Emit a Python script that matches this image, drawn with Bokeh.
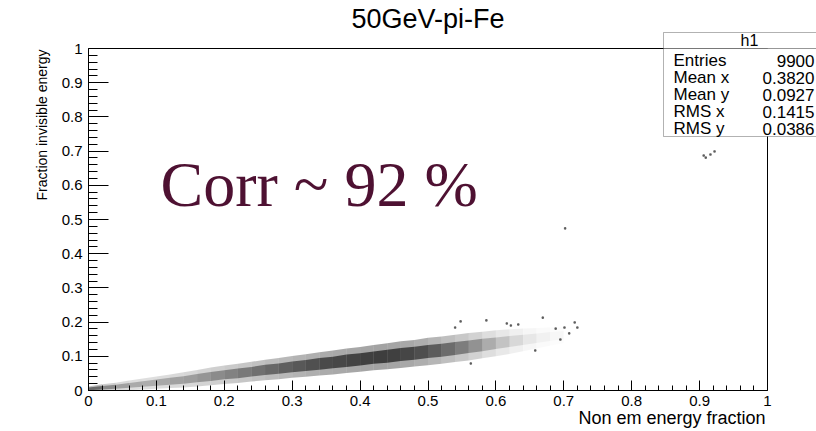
import math
from bokeh.plotting import figure
from bokeh.models import Label, BoxAnnotation, FixedTicker, ColumnDataSource, Title
from bokeh.embed import file_html
from bokeh.resources import INLINE

# ---------------- data ----------------
title_text = "50GeV-pi-Fe"
x_title = "Non em energy fraction"
y_title = "Fraction invisible energy"
corr_text = "Corr ~ 92 %"

x_lo, x_hi = 0, 1
y_lo, y_hi = 0, 1
major_ticks = [0, 0.1, 0.2, 0.3, 0.4, 0.5, 0.6, 0.7, 0.8, 0.9, 1]
major_labels = ["0", "0.1", "0.2", "0.3", "0.4", "0.5", "0.6", "0.7", "0.8", "0.9", "1"]
minor_ticks = [i / 50 for i in range(51)]

# 2D-density band of the scatter, per x column
col_x = [0.0, 0.02, 0.04, 0.06, 0.08, 0.10, 0.12, 0.14, 0.16, 0.18, 0.20, 0.22,
         0.24, 0.26, 0.28, 0.30, 0.32, 0.34, 0.36, 0.38, 0.40, 0.42, 0.44, 0.46,
         0.48, 0.50, 0.52, 0.54, 0.56, 0.58, 0.60, 0.62, 0.64, 0.66, 0.68, 0.70]
col_ycenter = [0.005, 0.008, 0.011, 0.015, 0.019, 0.023, 0.027, 0.031, 0.036, 0.041,
               0.046, 0.050, 0.055, 0.060, 0.064, 0.069, 0.073, 0.078, 0.082, 0.087,
               0.091, 0.096, 0.100, 0.105, 0.109, 0.114, 0.118, 0.123, 0.128, 0.133,
               0.138, 0.143, 0.148, 0.153, 0.158, 0.162]
col_core_half = [0.004, 0.005, 0.006, 0.007, 0.008, 0.009, 0.010, 0.011, 0.012, 0.013,
                 0.013, 0.014, 0.014, 0.015, 0.015, 0.016, 0.016, 0.017, 0.017, 0.018,
                 0.018, 0.018, 0.019, 0.019, 0.019, 0.019, 0.019, 0.019, 0.018, 0.018,
                 0.017, 0.016, 0.015, 0.014, 0.013, 0.012]
col_outer_half = [0.007, 0.010, 0.012, 0.014, 0.016, 0.018, 0.020, 0.022, 0.024, 0.026,
                  0.027, 0.028, 0.029, 0.030, 0.031, 0.032, 0.033, 0.034, 0.035, 0.036,
                  0.036, 0.037, 0.038, 0.039, 0.039, 0.040, 0.040, 0.040, 0.040, 0.039,
                  0.038, 0.036, 0.033, 0.030, 0.027, 0.024]
col_density = [0.8, 0.6, 0.45, 0.38, 0.35, 0.36, 0.4, 0.42, 0.45, 0.5, 0.55, 0.6,
               0.65, 0.7, 0.75, 0.8, 0.85, 0.9, 0.92, 0.95, 0.97, 1.0, 1.0, 0.97,
               0.92, 0.85, 0.75, 0.65, 0.55, 0.42, 0.3, 0.2, 0.12, 0.07, 0.04, 0.02]

# sparse single entries
sparse_x = [0.540, 0.548, 0.563, 0.586, 0.616, 0.622, 0.633, 0.658, 0.669, 0.688,
            0.695, 0.701, 0.708, 0.716, 0.720, 0.702, 0.909, 0.916, 0.922, 0.906]
sparse_y = [0.184, 0.202, 0.079, 0.205, 0.196, 0.190, 0.193, 0.117, 0.213, 0.181,
            0.149, 0.184, 0.167, 0.199, 0.184, 0.474, 0.681, 0.690, 0.699, 0.687]

stats_title = "h1"
stats_names = ["Entries", "Mean x", "Mean y", "RMS x", "RMS y"]
stats_values = ["9900", "0.3820", "0.0927", "0.1415", "0.0386"]

# ---------------- figure ----------------
W, H = 816, 431
FL, FR, FT, FB = 88, 767, 48, 390   # ROOT frame (pixels)

def px2x(px):
    return x_lo + (px - FL) / (FR - FL) * (x_hi - x_lo)

def py2y(py):
    return y_lo + (FB - py) / (FB - FT) * (y_hi - y_lo)

# Bokeh frame extends to the right and top canvas edges so the
# title and stats box can be drawn inside it
p = figure(width=W, height=H, x_range=(x_lo, px2x(W)), y_range=(y_lo, py2y(0)),
           output_backend="svg", toolbar_location=None,
           min_border_left=FL, min_border_right=0,
           min_border_top=0, min_border_bottom=H - FB)
p.grid.visible = False
p.outline_line_color = None
p.background_fill_color = "white"
p.border_fill_color = "white"

overrides = dict(zip(major_ticks, major_labels))
for ax in (p.xaxis[0], p.yaxis[0]):
    ax.ticker = FixedTicker(ticks=major_ticks, minor_ticks=minor_ticks)
    ax.major_label_overrides = overrides
    ax.major_label_text_font = "Liberation Sans"
    ax.major_label_text_font_size = "15px"
    ax.major_label_text_color = "black"
    ax.axis_line_color = "black"
    ax.major_tick_line_color = "black"
    ax.minor_tick_line_color = "black"
    ax.major_tick_out = 0
    ax.minor_tick_out = 0
p.xaxis.bounds = (x_lo, x_hi)
p.yaxis.bounds = (y_lo, y_hi)
p.xaxis.major_tick_in = 10
p.xaxis.minor_tick_in = 5
p.xaxis.major_label_standoff = 5
p.yaxis.major_tick_in = 20
p.yaxis.minor_tick_in = 9
p.yaxis.major_label_standoff = 6

# ROOT frame box
p.quad(left=[x_lo], right=[x_hi], bottom=[y_lo], top=[y_hi], fill_color=None,
       line_color="black", line_width=1)

# density band as trapezoid patches between neighbouring columns
def band_patches(half, alpha_scale):
    xs, ys, al = [], [], []
    for i in range(len(col_x) - 1):
        lo0 = max(y_lo, col_ycenter[i] - half[i])
        lo1 = max(y_lo, col_ycenter[i + 1] - half[i + 1])
        hi0 = col_ycenter[i] + half[i]
        hi1 = col_ycenter[i + 1] + half[i + 1]
        xs.append([col_x[i], col_x[i + 1], col_x[i + 1], col_x[i]])
        ys.append([lo0, lo1, hi1, hi0])
        al.append(alpha_scale * 0.5 * (col_density[i] + col_density[i + 1]))
    return ColumnDataSource(dict(xs=xs, ys=ys, alpha=al))

p.patches("xs", "ys", source=band_patches(col_outer_half, 0.36),
          fill_color="black", fill_alpha="alpha", line_color=None)
p.patches("xs", "ys", source=band_patches(col_core_half, 0.62),
          fill_color="black", fill_alpha="alpha", line_color=None)
p.scatter(sparse_x, sparse_y, marker="square", size=1.6, color="black", alpha=0.45)

# texts
font = "Liberation Sans"
p.add_layout(Label(x=0.5 * (x_lo + x_hi), y=py2y(18), text=title_text,
                   text_align="center", text_baseline="middle", text_font=font,
                   text_font_size="27px", text_color="black"))
p.add_layout(Title(text=x_title, align="right", offset=51, standoff=-5,
                   text_font=font, text_font_size="18px", text_font_style="normal",
                   text_color="black"), "below")
p.add_layout(Title(text=y_title, align="right", offset=49, standoff=17,
                   text_font=font, text_font_size="14px", text_font_style="normal",
                   text_color="black"), "left")
p.add_layout(Label(x=px2x(160), y=py2y(184), text=corr_text, text_align="left",
                   text_baseline="alphabetic", text_font="Liberation Serif",
                   text_font_size="64px", text_color="#4e1132"))

# stats box
bx_l, bx_r = px2x(663), px2x(835)
p.add_layout(BoxAnnotation(left=bx_l, right=bx_r, bottom=py2y(136), top=py2y(48),
                           fill_color="white", fill_alpha=1, line_color="black",
                           line_width=1, level="overlay"))
p.add_layout(BoxAnnotation(left=bx_l, right=bx_r, bottom=py2y(48), top=py2y(32),
                           fill_color="white", fill_alpha=1, line_color="black",
                           line_width=1, level="overlay"))
p.add_layout(Label(x=px2x(749), y=py2y(40), text=stats_title, text_align="center",
                   text_baseline="middle", text_font=font, text_font_size="16px",
                   text_color="black", level="overlay"))
row_py = [60, 77, 94, 111, 128]
for name, val, ry in zip(stats_names, stats_values, row_py):
    p.add_layout(Label(x=px2x(673), y=py2y(ry), text=name, text_align="left",
                       text_baseline="middle", text_font=font, text_font_size="17px",
                       text_color="black", level="overlay"))
    p.add_layout(Label(x=px2x(814), y=py2y(ry), text=val, text_align="right",
                       text_baseline="middle", text_font=font, text_font_size="17px",
                       text_color="black", level="overlay"))

open("out.html", "w").write(file_html(p, INLINE))
